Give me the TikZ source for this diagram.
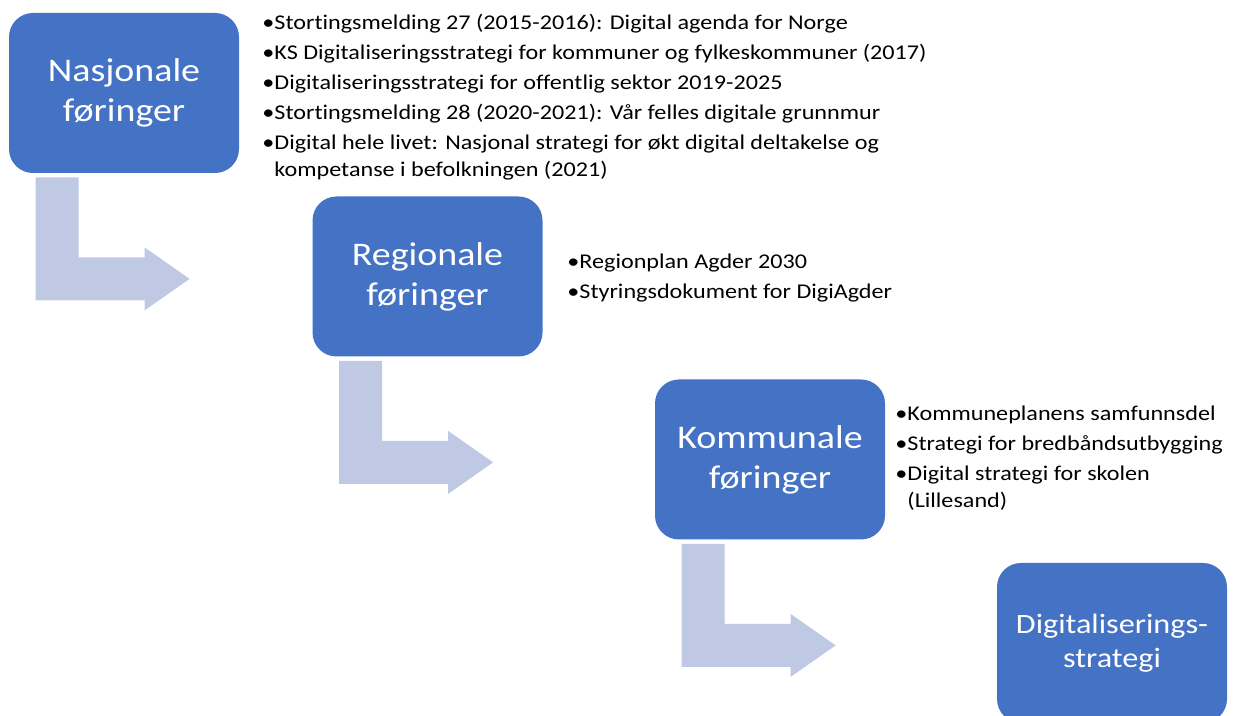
\documentclass[tikz,border=0pt]{standalone}
\usepackage{fontspec}
\setmainfont[FakeStretch=1.15, Ligatures=NoCommon]{Carlito}
\newlength{\du}
\setlength{\du}{0.5pt}
\definecolor{levelblue}{rgb}{0.266667, 0.447059, 0.768627}
\definecolor{arrowblue}{rgb}{0.749020, 0.788235, 0.894118}
\tikzset{
  level/.style={rectangle, rounded corners=24\du, fill=levelblue, text=white,
    minimum width=230\du, minimum height=160\du, inner sep=0pt, align=center,
    font=\fontsize{16.5}{20}\selectfont},
  bullets/.style={anchor=base west, inner sep=0pt, text=black,
    font=\fontsize{10.5}{13.5}\selectfont},
  stepfill/.style={fill=arrowblue, draw=none}
}
% bent arrow below a level box
\newcommand{\stepdown}[1]{%
\fill[stepfill] (#1.south west) ++(27\du,4\du) -- ++(43\du,0) -- ++(0,80\du)
  -- ++(66\du,0) -- ++(0,-10\du) -- ++(45\du,31.5\du) -- ++(-45\du,31.5\du)
  -- ++(0,-10\du) -- ++(-109\du,0) -- cycle;}
\newcommand{\itemlist}[1]{\parbox[t]{380pt}{\fontsize{10.5}{13.5}\selectfont #1}}

\begin{document}
\begin{tikzpicture}
\pgftransformxscale{1.000000}
\pgftransformyscale{-1.000000}
\useasboundingbox (0,0) rectangle (1238\du,716\du);
\node[level] (nasjonal) at (124\du,93\du) {Nasjonale\\føringer};
\node[level] (regional) at (427.5\du,276.5\du) {Regionale\\føringer};
\node[level] (kommunal) at (770\du,459.5\du) {Kommunale\\føringer};
\node[level, font=\fontsize{14}{17}\selectfont] (digistrategi) at (1112\du,643\du) {Digitaliserings-\\strategi};
\stepdown{nasjonal}
\stepdown{regional}
\stepdown{kommunal}
\node[bullets] (nasjonalliste) at (262\du,30\du) {\itemlist{%
•Stortingsmelding 27 (2015-2016): Digital agenda for Norge\\[1.5pt]
•KS Digitaliseringsstrategi for kommuner og fylkeskommuner (2017)\\[1.5pt]
•Digitaliseringsstrategi for offentlig sektor 2019-2025\\[1.5pt]
•Stortingsmelding 28 (2020-2021): Vår felles digitale grunnmur\\[1.5pt]
•Digital hele livet: Nasjonal strategi for økt digital deltakelse og\\
\hphantom{•}kompetanse i befolkningen (2021)}};
\node[bullets] (regionalliste) at (567\du,269\du) {\itemlist{%
•Regionplan Agder 2030\\[1.5pt]
•Styringsdokument for DigiAgder}};
\node[bullets] (kommunalliste) at (895\du,421\du) {\itemlist{%
•Kommuneplanens samfunnsdel\\[1.5pt]
•Strategi for bredbåndsutbygging\\[1.5pt]
•Digital strategi for skolen\\
\hphantom{•}(Lillesand)}};
\end{tikzpicture}
\end{document}
